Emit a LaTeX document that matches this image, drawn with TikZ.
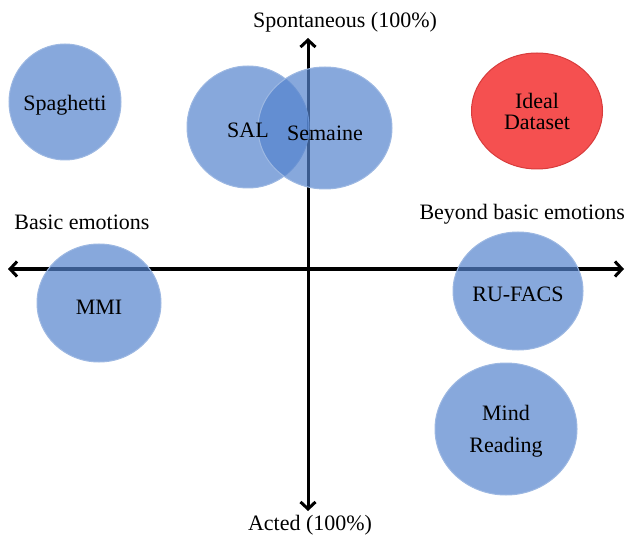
\documentclass[tikz,border=0pt]{standalone}
\usepackage{fontspec}
\setmainfont{Liberation Serif}
\usepackage{tikz}
\usetikzlibrary{arrows.meta,shapes.geometric,positioning}
\definecolor{bubblecolor}{HTML}{5483CD}
\definecolor{bubblerim}{HTML}{9DB8E2}
\definecolor{idealcolor}{HTML}{F55050}
\definecolor{idealrim}{HTML}{D83C3C}

\begin{document}
\begin{tikzpicture}[x=1pt, y=-1pt,
    every node/.style={font=\fontsize{22}{26}\selectfont},
    axis/.style={line width=3pt, {Straight Barb[length=7pt,width=15pt]}-{Straight Barb[length=7pt,width=15pt]}},
    bubble/.style={ellipse, inner sep=0pt, align=center, fill=bubblecolor, fill opacity=0.7,
        text opacity=1, draw=bubblerim, line width=1pt}]
    \useasboundingbox (0,0) rectangle (626,537);

    % Axes
    \coordinate (west) at (8,269);
    \coordinate (east) at (624,269);
    \coordinate (north) at (308,38);
    \coordinate (south) at (308,511);
    \draw[axis] (west) -- (east);
    \draw[axis] (north) -- (south);

    % Axis labels
    \node (spont) at (345,22) {Spontaneous (100\%)};
    \node (acted) at (310,525) {Acted (100\%)};
    \node (basic) at (82,222) {Basic emotions};
    \node[anchor=east, inner xsep=1pt] (beyond) at (626,214) {Beyond basic emotions};

    % Datasets
    \foreach \name/\cx/\cy/\w/\h in {
        spaghetti/65/102/112/116,
        sal/248/127/122/122,
        semaine/325/128/134/122,
        mmi/99/303/124/118,
        rufacs/518/291/130/118,
        mind/506/429/142/132} {
        \node[bubble, minimum width=\w, minimum height=\h] (\name) at (\cx,\cy) {};
    }
    \node at ([yshift=-3pt]spaghetti) {Spaghetti};
    \node at ([yshift=-3pt]sal) {SAL};
    \node at ([yshift=-5pt]semaine) {Semaine};
    \node at ([yshift=-4pt]mmi) {MMI};
    \node at ([yshift=-3pt]rufacs) {RU-FACS};
    \node[align=center, font=\fontsize{22}{32}\selectfont] at ([yshift=-2pt]mind) {Mind\\Reading};

    % Target
    \node[ellipse, inner sep=0pt, align=center, fill=idealcolor, draw=idealrim, line width=1pt,
        minimum width=131, minimum height=116, font=\fontsize{22}{21}\selectfont] (ideal) at (537,111) {Ideal\\Dataset};
\end{tikzpicture}
\end{document}
